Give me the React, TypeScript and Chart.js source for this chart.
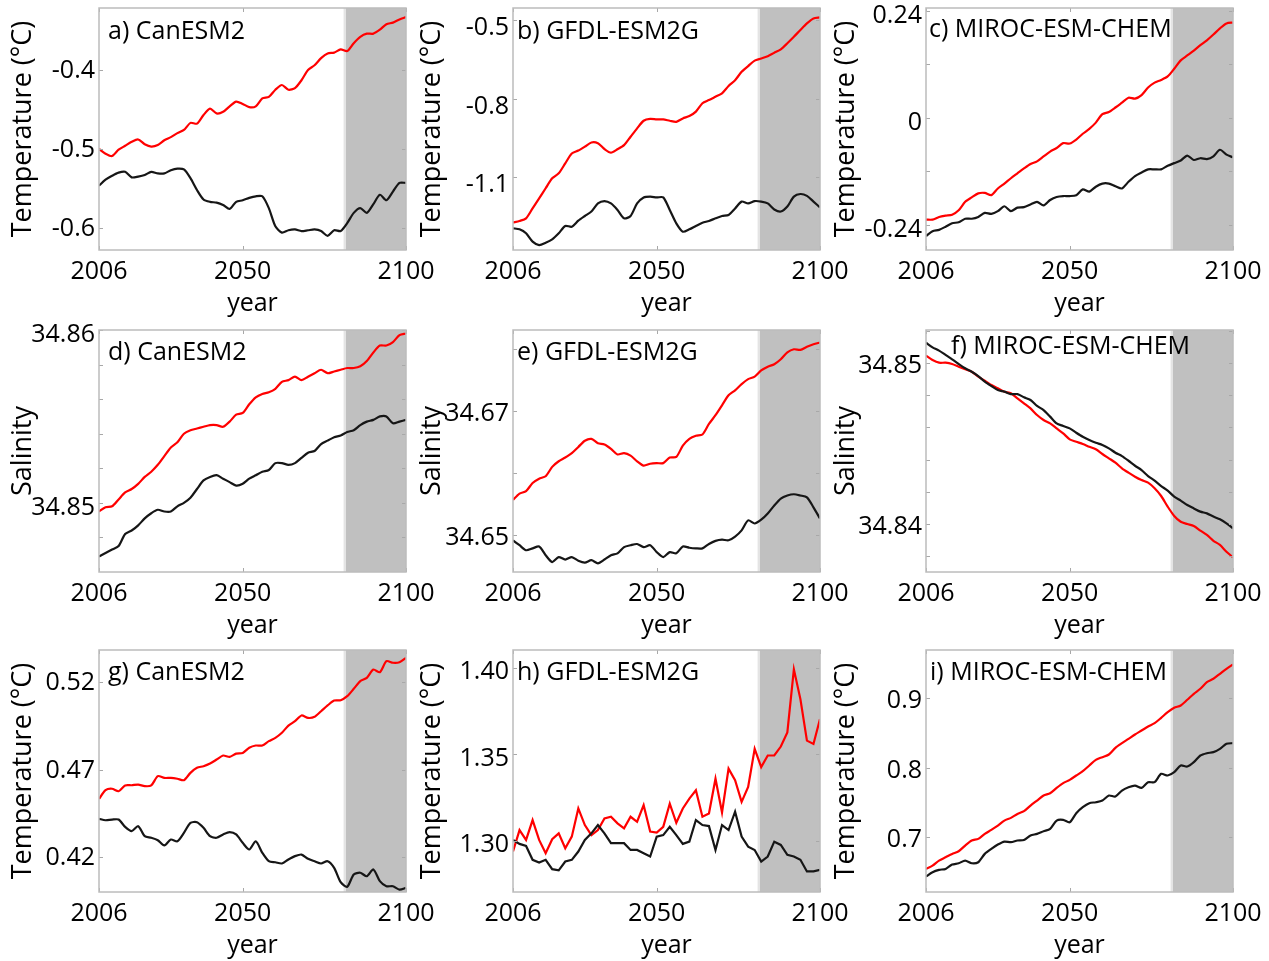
import { useEffect, useRef } from "react";
import { Chart, registerables } from "chart.js";

Chart.register(...registerables);
Chart.defaults.font.family = "'Open Sans', 'DejaVu Sans', sans-serif";
Chart.defaults.color = "#000";

// ---------------- data ----------------
const YEARS = [2006, 2008, 2010, 2012, 2014, 2016, 2018, 2020, 2022, 2024, 2026, 2028, 2030, 2032, 2034, 2036, 2038, 2040, 2042, 2044, 2046, 2048, 2050, 2052, 2054, 2056, 2058, 2060, 2062, 2064, 2066, 2068, 2070, 2072, 2074, 2076, 2078, 2080, 2082, 2084, 2086, 2088, 2090, 2092, 2094, 2096, 2098, 2100];
const X_TICKS = [2006, 2050, 2100];
const SHADE_START = 2081.5;

const A_RED = [-0.500, -0.506, -0.509, -0.501, -0.496, -0.491, -0.488, -0.494, -0.497, -0.495, -0.489, -0.485, -0.480, -0.476, -0.467, -0.468, -0.457, -0.449, -0.455, -0.453, -0.446, -0.440, -0.443, -0.447, -0.446, -0.436, -0.434, -0.425, -0.419, -0.425, -0.423, -0.413, -0.400, -0.394, -0.385, -0.379, -0.378, -0.374, -0.376, -0.366, -0.358, -0.354, -0.354, -0.349, -0.342, -0.340, -0.336, -0.333];
const A_BLACK = [-0.5465, -0.539, -0.534, -0.530, -0.529, -0.536, -0.535, -0.533, -0.529, -0.531, -0.531, -0.527, -0.525, -0.526, -0.537, -0.552, -0.564, -0.567, -0.568, -0.571, -0.576, -0.567, -0.565, -0.562, -0.560, -0.560, -0.575, -0.598, -0.606, -0.603, -0.602, -0.604, -0.603, -0.602, -0.604, -0.610, -0.603, -0.604, -0.594, -0.581, -0.575, -0.581, -0.570, -0.558, -0.565, -0.554, -0.543, -0.543];
const B_RED = [-1.274, -1.268, -1.258, -1.220, -1.182, -1.143, -1.105, -1.086, -1.048, -1.010, -0.999, -0.984, -0.968, -0.971, -0.993, -1.007, -0.994, -0.978, -0.946, -0.914, -0.885, -0.878, -0.880, -0.880, -0.885, -0.889, -0.876, -0.867, -0.850, -0.818, -0.806, -0.793, -0.780, -0.752, -0.730, -0.698, -0.676, -0.655, -0.647, -0.638, -0.625, -0.612, -0.589, -0.564, -0.538, -0.513, -0.494, -0.490];
const B_BLACK = [-1.296, -1.300, -1.315, -1.347, -1.360, -1.351, -1.338, -1.315, -1.287, -1.290, -1.267, -1.249, -1.232, -1.201, -1.192, -1.201, -1.226, -1.258, -1.249, -1.201, -1.178, -1.175, -1.178, -1.178, -1.226, -1.277, -1.309, -1.300, -1.287, -1.275, -1.268, -1.258, -1.249, -1.245, -1.220, -1.194, -1.201, -1.192, -1.194, -1.201, -1.224, -1.232, -1.213, -1.175, -1.165, -1.172, -1.194, -1.216];
const C_RED = [-0.229, -0.229, -0.223, -0.220, -0.218, -0.208, -0.189, -0.179, -0.170, -0.169, -0.174, -0.159, -0.148, -0.136, -0.125, -0.114, -0.104, -0.098, -0.087, -0.076, -0.068, -0.057, -0.058, -0.049, -0.036, -0.025, -0.011, 0.008, 0.013, 0.023, 0.034, 0.045, 0.043, 0.051, 0.068, 0.079, 0.085, 0.093, 0.110, 0.129, 0.140, 0.151, 0.163, 0.174, 0.187, 0.201, 0.212, 0.214];
const C_BLACK = [-0.266, -0.255, -0.252, -0.245, -0.237, -0.235, -0.227, -0.227, -0.223, -0.214, -0.216, -0.210, -0.199, -0.210, -0.202, -0.201, -0.195, -0.189, -0.197, -0.185, -0.178, -0.176, -0.176, -0.174, -0.161, -0.166, -0.155, -0.148, -0.148, -0.154, -0.159, -0.144, -0.131, -0.123, -0.116, -0.116, -0.116, -0.108, -0.102, -0.096, -0.085, -0.095, -0.091, -0.093, -0.087, -0.072, -0.083, -0.089];
const D_RED = [34.8495, 34.84975, 34.8498, 34.8502, 34.8506, 34.8508, 34.8511, 34.8515, 34.8518, 34.8522, 34.8527, 34.8532, 34.8535, 34.8540, 34.8542, 34.8543, 34.8544, 34.8545, 34.8545, 34.8544, 34.8547, 34.8551, 34.8552, 34.8557, 34.8561, 34.8563, 34.8564, 34.8566, 34.8570, 34.8571, 34.8573, 34.8571, 34.8573, 34.8575, 34.8577, 34.8575, 34.8576, 34.8577, 34.8578, 34.8578, 34.8579, 34.8582, 34.8587, 34.8591, 34.8591, 34.8593, 34.8597, 34.8598];
const D_BLACK = [34.8469, 34.8471, 34.8473, 34.8475, 34.8482, 34.8484, 34.8487, 34.8491, 34.8494, 34.8496, 34.8495, 34.8495, 34.8498, 34.8500, 34.8503, 34.8508, 34.8513, 34.8515, 34.8516, 34.8514, 34.8512, 34.8510, 34.8511, 34.8514, 34.8516, 34.8518, 34.8519, 34.8523, 34.8523, 34.8522, 34.8523, 34.8526, 34.8529, 34.8530, 34.8534, 34.8536, 34.8538, 34.8539, 34.8541, 34.8542, 34.8545, 34.8547, 34.8548, 34.8550, 34.8550, 34.8546, 34.8547, 34.8548];
const E_RED = [34.6557, 34.6567, 34.6571, 34.6584, 34.6591, 34.6595, 34.6610, 34.6619, 34.6625, 34.6632, 34.6642, 34.6652, 34.6655, 34.6648, 34.6646, 34.6639, 34.6630, 34.6632, 34.6628, 34.6619, 34.6612, 34.6615, 34.6616, 34.6616, 34.6625, 34.6626, 34.6644, 34.6655, 34.6660, 34.6662, 34.6679, 34.6693, 34.6709, 34.6725, 34.6733, 34.6743, 34.6751, 34.6755, 34.6765, 34.6771, 34.6775, 34.6783, 34.6794, 34.6799, 34.6798, 34.6803, 34.6807, 34.6810];
const E_BLACK = [34.6492, 34.6484, 34.6476, 34.6479, 34.6482, 34.6468, 34.6457, 34.6465, 34.6461, 34.6465, 34.6459, 34.6456, 34.6460, 34.6455, 34.6461, 34.6468, 34.6471, 34.6481, 34.6484, 34.6486, 34.6481, 34.6484, 34.6473, 34.6465, 34.6473, 34.6471, 34.6482, 34.6480, 34.6479, 34.6479, 34.6486, 34.6491, 34.6493, 34.6492, 34.6498, 34.6508, 34.6524, 34.6519, 34.6525, 34.6535, 34.6548, 34.6559, 34.6564, 34.6566, 34.6564, 34.6561, 34.6545, 34.6527];
const F_RED = [34.85046, 34.85019, 34.85002, 34.85002, 34.84994, 34.84977, 34.84961, 34.84946, 34.84915, 34.8489, 34.84863, 34.84843, 34.84822, 34.84812, 34.84781, 34.8475, 34.84718, 34.84677, 34.84646, 34.84625, 34.84594, 34.84563, 34.84526, 34.84511, 34.84497, 34.8448, 34.84464, 34.84435, 34.84408, 34.84381, 34.84346, 34.84319, 34.84294, 34.84273, 34.84257, 34.84222, 34.84174, 34.84108, 34.8405, 34.84014, 34.84, 34.83988, 34.83959, 34.83932, 34.83896, 34.8387, 34.83828, 34.83793];
const F_BLACK = [34.85126, 34.85097, 34.85077, 34.8505, 34.85023, 34.84994, 34.84967, 34.84946, 34.84919, 34.84884, 34.84857, 34.84832, 34.84822, 34.84807, 34.84807, 34.84787, 34.8477, 34.84733, 34.84708, 34.84667, 34.84625, 34.84609, 34.84594, 34.84567, 34.84542, 34.84522, 34.84505, 34.84491, 34.8447, 34.84443, 34.84422, 34.84393, 34.84362, 34.84335, 34.84298, 34.84269, 34.84236, 34.84207, 34.8417, 34.84145, 34.84118, 34.84097, 34.84077, 34.84066, 34.84046, 34.84029, 34.84004, 34.83973];
const G_RED = [0.4532, 0.4582, 0.4590, 0.4576, 0.4609, 0.4610, 0.4614, 0.4605, 0.4609, 0.4662, 0.4652, 0.4652, 0.4647, 0.4639, 0.4681, 0.4710, 0.4719, 0.4734, 0.4757, 0.4780, 0.4772, 0.4791, 0.4795, 0.4824, 0.4837, 0.4837, 0.4862, 0.4881, 0.4910, 0.4951, 0.4976, 0.5009, 0.4995, 0.5001, 0.5033, 0.5066, 0.5094, 0.5096, 0.5119, 0.5161, 0.5205, 0.5224, 0.5271, 0.5256, 0.5319, 0.5310, 0.5313, 0.5338];
const G_BLACK = [0.4418, 0.4410, 0.4414, 0.4414, 0.4372, 0.4348, 0.4376, 0.4319, 0.4310, 0.4296, 0.4266, 0.4300, 0.4290, 0.4338, 0.4395, 0.4399, 0.4367, 0.4319, 0.4310, 0.4329, 0.4342, 0.4329, 0.4281, 0.4243, 0.4290, 0.4224, 0.4176, 0.4170, 0.4163, 0.4186, 0.4205, 0.4214, 0.4190, 0.4176, 0.4163, 0.4176, 0.4138, 0.4056, 0.4030, 0.4100, 0.4110, 0.4090, 0.4129, 0.4062, 0.4033, 0.4033, 0.4014, 0.4024];
const H_RED = [1.2939, 1.3063, 1.3006, 1.3121, 1.3006, 1.2929, 1.3010, 1.3044, 1.2958, 1.3025, 1.3188, 1.3092, 1.3034, 1.3063, 1.3130, 1.3140, 1.3102, 1.3073, 1.3140, 1.3111, 1.3207, 1.3054, 1.3048, 1.3082, 1.3216, 1.3105, 1.3188, 1.3245, 1.3293, 1.3140, 1.3159, 1.3360, 1.3165, 1.3418, 1.3351, 1.3226, 1.3312, 1.3533, 1.3427, 1.3494, 1.3494, 1.3546, 1.3628, 1.3992, 1.3820, 1.3580, 1.3561, 1.3705];
const H_BLACK = [1.3006, 1.2983, 1.2971, 1.2891, 1.2875, 1.2891, 1.2837, 1.2830, 1.2881, 1.2891, 1.2939, 1.3006, 1.3044, 1.3092, 1.3044, 1.2987, 1.2987, 1.2987, 1.2948, 1.2948, 1.2929, 1.2910, 1.3025, 1.3034, 1.3082, 1.3034, 1.2983, 1.2996, 1.3121, 1.3092, 1.3086, 1.2948, 1.3092, 1.3063, 1.3169, 1.3025, 1.2967, 1.2948, 1.2881, 1.2910, 1.2996, 1.2977, 1.2920, 1.2910, 1.2891, 1.2824, 1.2824, 1.2833];
const I_RED = [0.6542, 0.6590, 0.6662, 0.6710, 0.6758, 0.6796, 0.6878, 0.6950, 0.6974, 0.7046, 0.7103, 0.7165, 0.7237, 0.7276, 0.7333, 0.7372, 0.7453, 0.7525, 0.7597, 0.7631, 0.7707, 0.7775, 0.7823, 0.7885, 0.7947, 0.8029, 0.8110, 0.8149, 0.8187, 0.8283, 0.8350, 0.8412, 0.8475, 0.8532, 0.8590, 0.8638, 0.8715, 0.8796, 0.8859, 0.8892, 0.8974, 0.9060, 0.9132, 0.9228, 0.9276, 0.9348, 0.9420, 0.9482];
const I_BLACK = [0.6432, 0.6494, 0.6528, 0.6542, 0.6604, 0.6623, 0.6662, 0.6623, 0.6638, 0.6758, 0.6830, 0.6892, 0.6935, 0.6926, 0.6950, 0.6959, 0.7022, 0.7046, 0.7084, 0.7118, 0.7237, 0.7247, 0.7213, 0.7343, 0.7429, 0.7487, 0.7501, 0.7525, 0.7597, 0.7583, 0.7669, 0.7717, 0.7741, 0.7707, 0.7789, 0.7789, 0.7909, 0.7885, 0.7933, 0.8029, 0.8014, 0.8077, 0.8173, 0.8206, 0.8221, 0.8269, 0.8341, 0.8350];

// y tick values / labels / tick marks
const A_TICKS = [-0.6, -0.5, -0.4];
const A_LABELS = ["-0.6", "-0.5", "-0.4"];
const B_TICKS = [-1.1, -0.8, -0.5];
const B_LABELS = ["-1.1", "-0.8", "-0.5"];
const C_TICKS = [-0.24, 0, 0.24];
const C_LABELS = ["-0.24", "0", "0.24"];
const C_MARKS = [-0.24, -0.12, 0, 0.12, 0.24];
const D_TICKS = [34.85, 34.86];
const D_LABELS = ["34.85", "34.86"];
const D_MARKS = [34.848, 34.85, 34.852, 34.854, 34.856, 34.858, 34.86];
const E_TICKS = [34.65, 34.67];
const E_LABELS = ["34.65", "34.67"];
const E_MARKS = [34.65, 34.66, 34.67, 34.68];
const F_TICKS = [34.84, 34.85];
const F_LABELS = ["34.84", "34.85"];
const F_MARKS = [34.838, 34.84, 34.842, 34.844, 34.846, 34.848, 34.85, 34.852];
const G_TICKS = [0.42, 0.47, 0.52];
const G_LABELS = ["0.42", "0.47", "0.52"];
const H_TICKS = [1.3, 1.35, 1.4];
const H_LABELS = ["1.30", "1.35", "1.40"];
const I_TICKS = [0.7, 0.8, 0.9];
const I_LABELS = ["0.7", "0.8", "0.9"];

const T_TITLE = "Temperature (°C)";
const S_TITLE = "Salinity";

// ---------------- layout / style ----------------
const Y_AXIS_W = 100;
const X_AXIS_H = 70;
const PAD_TOP = 20;
const PAD_RIGHT = 40;
const PLOT_W = 307;
const PLOT_H = 242;
const COL_LEFT = [99, 513, 926];
const ROW_TOP = [8, 330, 650];
const COL_TITLE_PAD = [8, 3, 4];

const PANELS = [
  { name: "a) CanESM2", yTitle: T_TITLE, red: A_RED, black: A_BLACK, min: -0.628, max: -0.3215, ticks: A_TICKS, labels: A_LABELS, marks: A_TICKS, col: 0, row: 0, dx: 9, dy: 24, shift: 1, tension: 0.25 },
  { name: "b) GFDL-ESM2G", yTitle: T_TITLE, red: B_RED, black: B_BLACK, min: -1.379, max: -0.454, ticks: B_TICKS, labels: B_LABELS, marks: B_TICKS, col: 1, row: 0, dx: 4, dy: 24, shift: 8, tension: 0.25 },
  { name: "c) MIROC-ESM-CHEM", yTitle: T_TITLE, red: C_RED, black: C_BLACK, min: -0.2973, max: 0.2467, ticks: C_TICKS, labels: C_LABELS, marks: C_MARKS, col: 2, row: 0, dx: 3, dy: 22, shift: 5, tension: 0.25 },
  { name: "d) CanESM2", yTitle: S_TITLE, red: D_RED, black: D_BLACK, min: 34.846, max: 34.86, ticks: D_TICKS, labels: D_LABELS, marks: D_MARKS, col: 0, row: 1, dx: 9, dy: 23, shift: 5, tension: 0.25 },
  { name: "e) GFDL-ESM2G", yTitle: S_TITLE, red: E_RED, black: E_BLACK, min: 34.6441, max: 34.683, ticks: E_TICKS, labels: E_LABELS, marks: E_MARKS, col: 1, row: 1, dx: 4, dy: 23, shift: 3, tension: 0.25 },
  { name: "f) MIROC-ESM-CHEM", yTitle: S_TITLE, red: F_RED, black: F_BLACK, min: 34.83702, max: 34.85205, ticks: F_TICKS, labels: F_LABELS, marks: F_MARKS, col: 2, row: 1, dx: 25, dy: 17, shift: 3, tension: 0.25 },
  { name: "g) CanESM2", yTitle: T_TITLE, red: G_RED, black: G_BLACK, min: 0.4, max: 0.5383, ticks: G_TICKS, labels: G_LABELS, marks: G_TICKS, col: 0, row: 2, dx: 9, dy: 23, shift: 1, tension: 0.25 },
  { name: "h) GFDL-ESM2G", yTitle: T_TITLE, red: H_RED, black: H_BLACK, min: 1.2705, max: 1.4104, ticks: H_TICKS, labels: H_LABELS, marks: H_TICKS, col: 1, row: 2, dx: 4, dy: 23, shift: 4, tension: 0 },
  { name: "i) MIROC-ESM-CHEM", yTitle: T_TITLE, red: I_RED, black: I_BLACK, min: 0.621, max: 0.969, ticks: I_TICKS, labels: I_LABELS, marks: I_TICKS, col: 2, row: 2, dx: 4, dy: 23, shift: 3, tension: 0.25 },
];

type PanelCfg = (typeof PANELS)[number];

function decoPlugin(p: PanelCfg) {
  return {
    id: "panelDeco",
    beforeDatasetsDraw(chart: any) {
      const { ctx, chartArea, scales } = chart;
      const { top, right, bottom } = chartArea;
      const xs = scales.x.getPixelForValue(SHADE_START);
      ctx.save();
      ctx.fillStyle = "#c0c0c0";
      ctx.fillRect(xs, top, right - xs, bottom - top);
      ctx.fillStyle = "#e4e4e4";
      ctx.fillRect(xs - 2, top, 2, bottom - top);
      ctx.restore();
    },
    afterDatasetsDraw(chart: any) {
      const { ctx, chartArea, scales } = chart;
      const { left, top, right, bottom } = chartArea;
      ctx.save();
      // inward tick marks
      ctx.strokeStyle = "#a8a8a8";
      ctx.lineWidth = 1;
      ctx.beginPath();
      for (const v of p.marks) {
        const y = Math.round(scales.y.getPixelForValue(v)) + 0.5;
        ctx.moveTo(left, y);
        ctx.lineTo(left + 4, y);
        ctx.moveTo(right - 4, y);
        ctx.lineTo(right, y);
      }
      for (const v of X_TICKS) {
        const x = Math.round(scales.x.getPixelForValue(v)) + 0.5;
        ctx.moveTo(x, bottom);
        ctx.lineTo(x, bottom - 4);
        ctx.moveTo(x, top);
        ctx.lineTo(x, top + 4);
      }
      ctx.stroke();
      // box
      ctx.strokeStyle = "#bcbcbc";
      ctx.lineWidth = 1.5;
      ctx.strokeRect(left, top, right - left, bottom - top);
      // panel label
      ctx.fillStyle = "#000";
      ctx.font = "25px 'Open Sans', 'DejaVu Sans', sans-serif";
      ctx.textAlign = "left";
      ctx.textBaseline = "middle";
      ctx.fillText(p.name, left + p.dx, top + p.dy);
      ctx.restore();
    },
  };
}

function Panel({ p }: { p: PanelCfg }) {
  const ref = useRef<HTMLCanvasElement | null>(null);
  useEffect(() => {
    const canvas = ref.current;
    if (!canvas) return;
    const chart = new Chart(canvas, {
      type: "line",
      data: {
        datasets: [
          {
            data: YEARS.map((x, i) => ({ x, y: p.black[i] })),
            borderColor: "#161616",
            borderWidth: 2.2,
            pointRadius: 0,
            tension: p.tension,
            fill: false,
          },
          {
            data: YEARS.map((x, i) => ({ x, y: p.red[i] })),
            borderColor: "#ff0000",
            borderWidth: 2.2,
            pointRadius: 0,
            tension: p.tension,
            fill: false,
          },
        ],
      },
      options: {
        responsive: false,
        animation: false,
        devicePixelRatio: 1,
        events: [],
        layout: { padding: { top: PAD_TOP, right: PAD_RIGHT, left: 0, bottom: 0 } },
        plugins: { legend: { display: false }, tooltip: { enabled: false } },
        scales: {
          x: {
            type: "linear",
            min: 2006,
            max: 2100,
            grid: { display: false, drawTicks: false, tickLength: 0 },
            border: { display: false },
            afterBuildTicks: (s: any) => {
              s.ticks = X_TICKS.map((v) => ({ value: v }));
            },
            afterFit: (s: any) => {
              s.height = X_AXIS_H;
            },
            ticks: {
              autoSkip: false,
              maxRotation: 0,
              padding: 7,
              color: "#000",
              font: { size: 25 },
              callback: (v: any) => String(v),
            },
            title: {
              display: true,
              text: "year",
              color: "#000",
              font: { size: 25 },
              padding: { top: 0, bottom: 1 },
            },
          },
          y: {
            type: "linear",
            min: p.min,
            max: p.max,
            grid: { display: false, drawTicks: false, tickLength: 0 },
            border: { display: false },
            afterBuildTicks: (s: any) => {
              s.ticks = p.ticks.map((v) => ({ value: v }));
            },
            afterFit: (s: any) => {
              s.width = Y_AXIS_W;
            },
            ticks: {
              autoSkip: false,
              padding: 4,
              labelOffset: p.shift,
              color: "#000",
              font: { size: 25 },
              callback: (_v: any, i: number) => p.labels[i],
            },
            title: {
              display: true,
              text: p.yTitle,
              color: "#000",
              font: { size: 27 },
              padding: { top: COL_TITLE_PAD[p.col], bottom: 0 },
            },
          },
        },
      },
      plugins: [decoPlugin(p)],
    } as any);
    return () => chart.destroy();
  }, [p]);
  return (
    <canvas
      ref={ref}
      width={Y_AXIS_W + PLOT_W + PAD_RIGHT}
      height={PAD_TOP + PLOT_H + X_AXIS_H}
      style={{
        position: "absolute",
        left: COL_LEFT[p.col] - Y_AXIS_W,
        top: ROW_TOP[p.row] - PAD_TOP,
        width: Y_AXIS_W + PLOT_W + PAD_RIGHT,
        height: PAD_TOP + PLOT_H + X_AXIS_H,
      }}
    />
  );
}

export default function App() {
  return (
    <div
      style={{
        position: "absolute",
        left: 0,
        top: 0,
        width: 1269,
        height: 961,
        background: "#fff",
        overflow: "hidden",
      }}
    >
      {PANELS.map((p) => (
        <Panel key={p.name} p={p} />
      ))}
    </div>
  );
}
